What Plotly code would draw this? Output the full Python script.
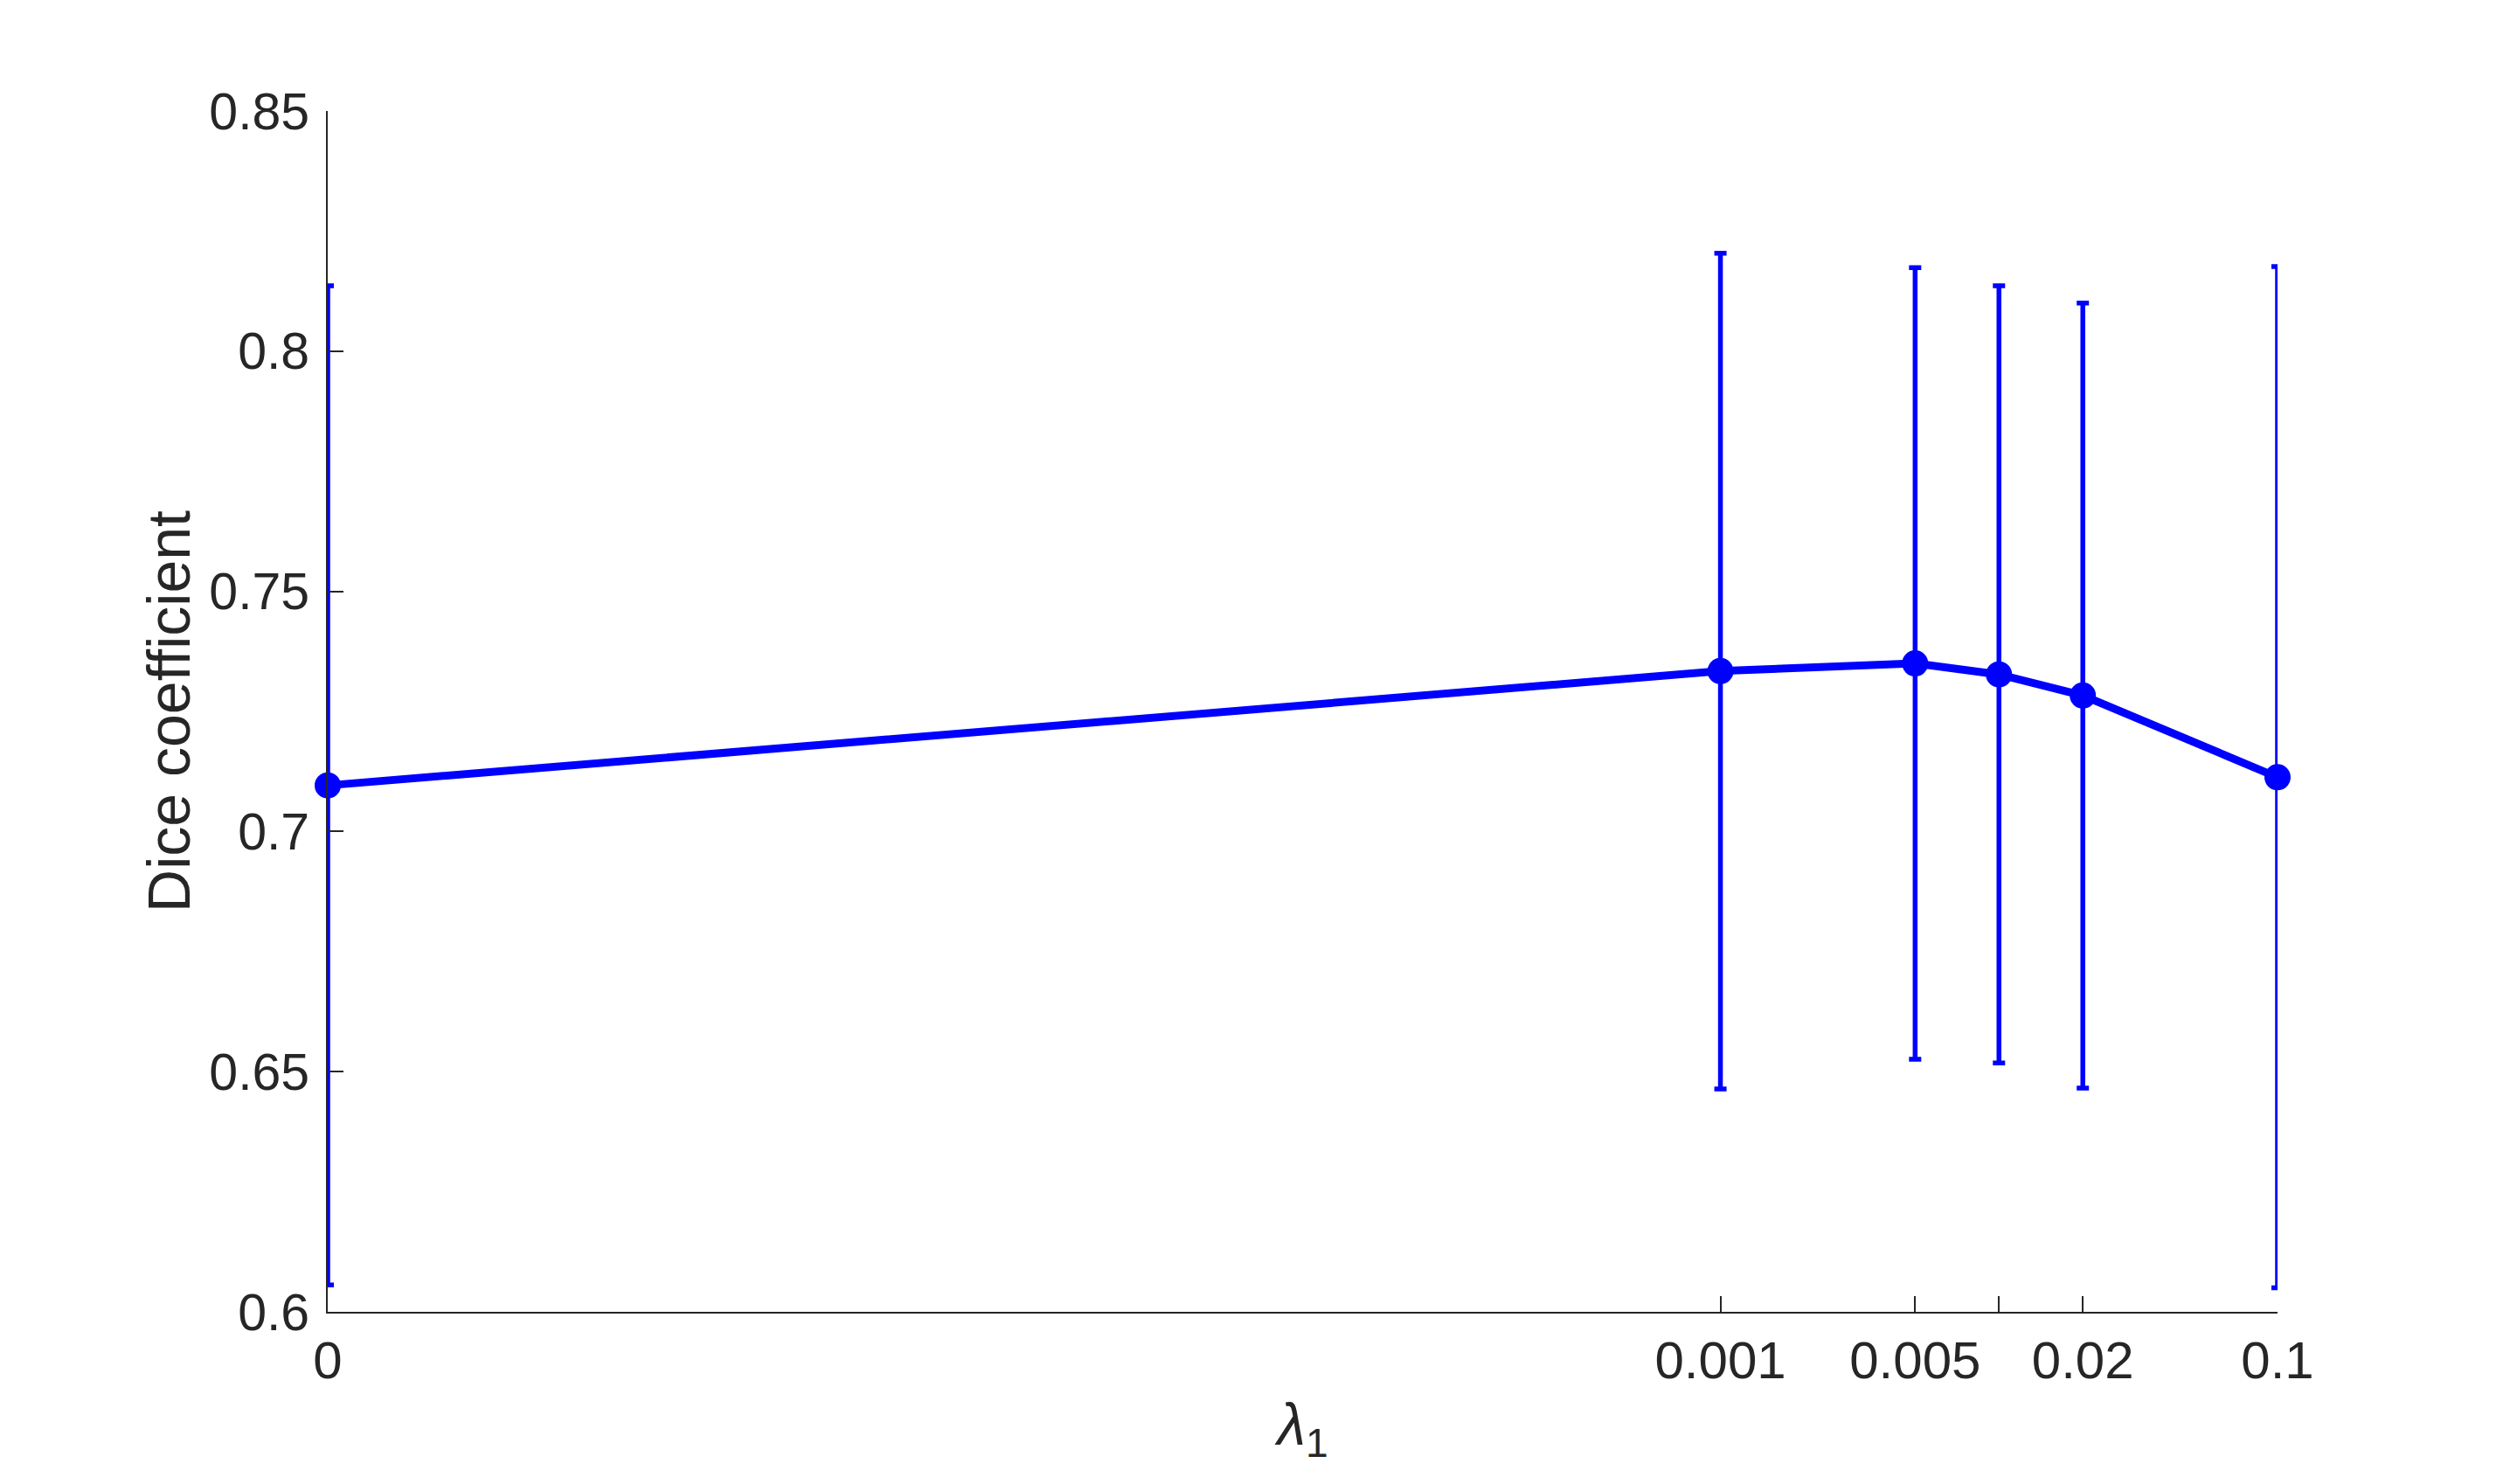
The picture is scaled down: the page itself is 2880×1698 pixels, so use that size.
import plotly.graph_objects as go

# regularisation weights (0 is drawn at 1e-8 on the log axis)
lambda_vals = [0, 0.001, 0.005, 0.01, 0.02, 0.1]
dice_mean = [0.7096, 0.7334, 0.7350, 0.7327, 0.7283, 0.7113]
dice_std = [0.1040, 0.0870, 0.0824, 0.0809, 0.0817, 0.1063]

tick_vals = [0, 0.001, 0.005, 0.01, 0.02, 0.1]
tick_text = ["0", "0.001", "0.005", "", "0.02", "0.1"]

ZERO_POS = 1e-8
x_plot = [ZERO_POS if v == 0 else v for v in lambda_vals]
x_ticks = [ZERO_POS if v == 0 else v for v in tick_vals]

FONT = "Liberation Sans, Arial, Helvetica, sans-serif"
AX_COL = "#262626"
BLUE = "#0000FF"

fig = go.Figure()
fig.add_trace(go.Scatter(
    x=x_plot, y=dice_mean,
    mode="lines+markers",
    line=dict(color=BLUE, width=9),
    marker=dict(color=BLUE, size=30),
    error_y=dict(type="data", array=dice_std, visible=True,
                 color=BLUE, thickness=5.5, width=7),
    cliponaxis=False,
    showlegend=False,
))

# tiny padding so the end points are not dropped at the range edges
fig.update_xaxes(
    type="log", range=[-8.0001, -0.9999],
    tickvals=x_ticks, ticktext=tick_text,
    ticks="inside", ticklen=18, tickwidth=1.5, tickcolor=AX_COL,
    showline=True, linecolor=AX_COL, linewidth=2,
    showgrid=False, zeroline=False,
    tickfont=dict(family=FONT, size=60, color=AX_COL),
    ticklabelstandoff=2,
    title=dict(text="<i>λ</i><sub>1</sub>", font=dict(family=FONT, size=66, color=AX_COL), standoff=18),
)
fig.update_yaxes(
    range=[0.6, 0.85],
    tickvals=[0.6, 0.65, 0.7, 0.75, 0.8, 0.85],
    ticktext=["0.6", "0.65", "0.7", "0.75", "0.8", "0.85"],
    ticks="inside", ticklen=18, tickwidth=1.5, tickcolor=AX_COL,
    showline=True, linecolor=AX_COL, linewidth=2,
    showgrid=False, zeroline=False,
    tickfont=dict(family=FONT, size=59, color=AX_COL),
    ticklabelstandoff=7,
    title=dict(text="Dice coefficient", font=dict(family=FONT, size=68, color=AX_COL), standoff=0),
)

fig.update_layout(
    width=2880, height=1698,
    margin=dict(l=367, r=282, t=119, b=205),
    plot_bgcolor="white", paper_bgcolor="white",
)

fig.write_html("out.html")
